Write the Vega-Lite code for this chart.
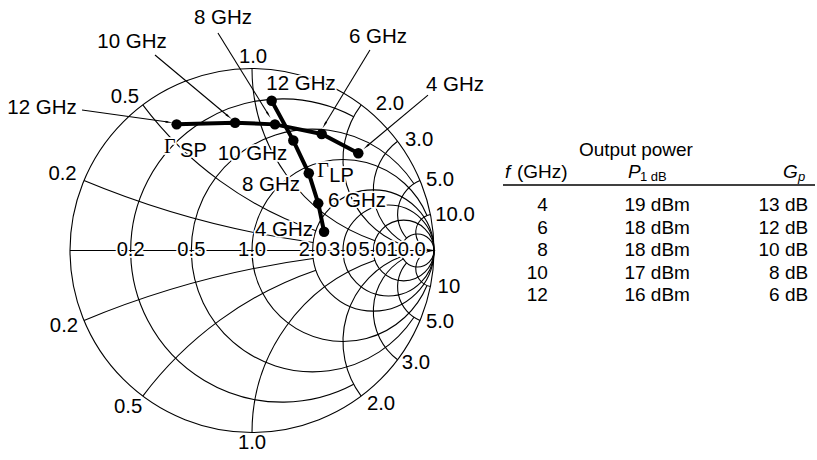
{
  "$schema": "https://vega.github.io/schema/vega-lite/v6.json",
  "width": 817,
  "height": 460,
  "autosize": {"type": "fit", "contains": "padding"},
  "padding": 0,
  "background": "white",
  "config": {"view": {"stroke": null}, "axis": {"disable": true}, "text": {"font": "Liberation Sans"}},
  "datasets": {
    "arcs": [
      {"gx": 0, "gy": 0, "rad": 1, "t1": 0, "t2": 360},
      {"gx": 0.16667, "gy": 0, "rad": 0.83333, "t1": -208.07, "t2": 28.07},
      {"gx": 0.33333, "gy": 0, "rad": 0.66667, "t1": -236.6, "t2": 56.6},
      {"gx": 0.5, "gy": 0, "rad": 0.5, "t1": -247.38, "t2": 67.38},
      {"gx": 0.66667, "gy": 0, "rad": 0.33333, "t1": 0, "t2": 360},
      {"gx": 0.75, "gy": 0, "rad": 0.25, "t1": 0, "t2": 360},
      {"gx": 0.83333, "gy": 0, "rad": 0.16667, "t1": 0, "t2": 360},
      {"gx": 0.90909, "gy": 0, "rad": 0.090909, "t1": 0, "t2": 360},
      {"gx": 1, "gy": 5, "rad": 5, "t1": -157.38, "t2": -172.37},
      {"gx": 1, "gy": -5, "rad": 5, "t1": 337.38, "t2": 352.37},
      {"gx": 1, "gy": 2, "rad": 2, "t1": -126.87, "t2": -161.08},
      {"gx": 1, "gy": -2, "rad": 2, "t1": 306.87, "t2": 341.08},
      {"gx": 1, "gy": 1, "rad": 1, "t1": -90, "t2": -161.08},
      {"gx": 1, "gy": -1, "rad": 1, "t1": 270, "t2": 341.08},
      {"gx": 1, "gy": 0.5, "rad": 0.5, "t1": -53.13, "t2": -159.39},
      {"gx": 1, "gy": -0.5, "rad": 0.5, "t1": 233.13, "t2": 339.39},
      {"gx": 1, "gy": 0.33333, "rad": 0.33333, "t1": -36.87, "t2": -149.49},
      {"gx": 1, "gy": -0.33333, "rad": 0.33333, "t1": 216.87, "t2": 329.49},
      {"gx": 1, "gy": 0.2, "rad": 0.2, "t1": -22.62, "t2": -131.11},
      {"gx": 1, "gy": -0.2, "rad": 0.2, "t1": 202.62, "t2": 311.11},
      {"gx": 1, "gy": 0.1, "rad": 0.1, "t1": -11.42, "t2": -180},
      {"gx": 1, "gy": -0.1, "rad": 0.1, "t1": 191.42, "t2": 360}
    ],
    "segs": [
      {"gx": -1, "gy": 0, "gx2": 0.985, "gy2": 0, "ang": 90},
      {"gx": -0.934, "gy": 0.772, "gx2": -0.462, "gy2": 0.706, "ang": 97.9},
      {"gx": -0.533, "gy": 1.074, "gx2": -0.132, "gy2": 0.739, "ang": 129.9},
      {"gx": -0.187, "gy": 1.195, "gx2": 0.088, "gy2": 0.75, "ang": 148.3},
      {"gx": 0.648, "gy": 1.102, "gx2": 0.401, "gy2": 0.695, "ang": -148.7},
      {"gx": 0.967, "gy": 0.854, "gx2": 0.632, "gy2": 0.574, "ang": -130.1}
    ],
    "labels": [
      {"gx": -1.1538, "gy": 0.783, "txt": "12 GHz", "kind": "big"},
      {"gx": -0.6593, "gy": 1.1456, "txt": "10 GHz", "kind": "big"},
      {"gx": -0.1593, "gy": 1.2775, "txt": "8 GHz", "kind": "big"},
      {"gx": 0.6923, "gy": 1.1731, "txt": "6 GHz", "kind": "big"},
      {"gx": 1.115, "gy": 0.909, "txt": "4 GHz", "kind": "big"},
      {"gx": 0.2692, "gy": 0.9121, "txt": "12 GHz", "kind": "big"},
      {"gx": 0.0027, "gy": 0.5275, "txt": "10 GHz", "kind": "big"},
      {"gx": 0.1044, "gy": 0.3626, "txt": "8 GHz", "kind": "big"},
      {"gx": 0.5769, "gy": 0.2747, "txt": "6 GHz", "kind": "big"},
      {"gx": 0.1758, "gy": 0.1099, "txt": "4 GHz", "kind": "big"},
      {"gx": 0.0055, "gy": 1.063, "txt": "1.0", "kind": "out"},
      {"gx": 0, "gy": -1.058, "txt": "1.0", "kind": "out"},
      {"gx": -0.698, "gy": 0.843, "txt": "0.5", "kind": "out"},
      {"gx": -0.681, "gy": -0.86, "txt": "0.5", "kind": "out"},
      {"gx": -1.041, "gy": 0.42, "txt": "0.2", "kind": "out"},
      {"gx": -1.033, "gy": -0.415, "txt": "0.2", "kind": "out"},
      {"gx": 0.758, "gy": 0.805, "txt": "2.0", "kind": "out"},
      {"gx": 0.709, "gy": -0.843, "txt": "2.0", "kind": "out"},
      {"gx": 0.918, "gy": 0.607, "txt": "3.0", "kind": "out"},
      {"gx": 0.901, "gy": -0.618, "txt": "3.0", "kind": "out"},
      {"gx": 1.033, "gy": 0.387, "txt": "5.0", "kind": "out"},
      {"gx": 1.033, "gy": -0.393, "txt": "5.0", "kind": "out"},
      {"gx": 1.115, "gy": 0.195, "txt": "10.0", "kind": "out"},
      {"gx": 1.082, "gy": -0.201, "txt": "10", "kind": "out"},
      {"gx": -0.6667, "gy": 0, "txt": "0.2", "kind": "ax"},
      {"gx": -0.3333, "gy": 0, "txt": "0.5", "kind": "ax"},
      {"gx": 0, "gy": 0, "txt": "1.0", "kind": "ax"},
      {"gx": 0.3333, "gy": 0, "txt": "2.0", "kind": "ax"},
      {"gx": 0.5, "gy": 0, "txt": "3.0", "kind": "ax"},
      {"gx": 0.662, "gy": 0, "txt": "5.0", "kind": "ax"},
      {"gx": 0.847, "gy": 0, "txt": "10.0", "kind": "ax"},
      {"gx": -0.322, "gy": 0.548, "txt": "SP", "kind": "sub"},
      {"gx": 0.492, "gy": 0.411, "txt": "LP", "kind": "sub"}
    ],
    "gam": [
      {"gx": -0.452, "gy": 0.569, "txt": "Γ"},
      {"gx": 0.39, "gy": 0.437, "txt": "Γ"}
    ],
    "curve": [
      {"set": "SP", "f": 12, "gx": -0.414, "gy": 0.693},
      {"set": "SP", "f": 10, "gx": -0.093, "gy": 0.702},
      {"set": "SP", "f": 8, "gx": 0.126, "gy": 0.693},
      {"set": "SP", "f": 6, "gx": 0.383, "gy": 0.64},
      {"set": "SP", "f": 4, "gx": 0.584, "gy": 0.534},
      {"set": "LP", "f": 12, "gx": 0.108, "gy": 0.823},
      {"set": "LP", "f": 10, "gx": 0.227, "gy": 0.604},
      {"set": "LP", "f": 8, "gx": 0.312, "gy": 0.424},
      {"set": "LP", "f": 6, "gx": 0.364, "gy": 0.259},
      {"set": "LP", "f": 4, "gx": 0.396, "gy": 0.103}
    ],
    "tab": [
      {"fv": 4, "f": "4", "p": "19 dBm", "g": "13 dB"},
      {"fv": 6, "f": "6", "p": "18 dBm", "g": "12 dB"},
      {"fv": 8, "f": "8", "p": "18 dBm", "g": "10 dB"},
      {"fv": 10, "f": "10", "p": "17 dBm", "g": "8 dB"},
      {"fv": 12, "f": "12", "p": "16 dBm", "g": "6 dB"}
    ],
    "thead": [
      {"tx": 0.426, "ty": -0.89, "txt": "Output power", "k": "title"},
      {"tx": 0.0064, "ty": 1.04, "txt": "f", "k": "it"},
      {"tx": 0.0449, "ty": 1.04, "txt": "(GHz)", "k": "norm"},
      {"tx": 0.4006, "ty": 1.04, "txt": "P", "k": "it"},
      {"tx": 0.4391, "ty": 1.5, "txt": "1 dB", "k": "sub"},
      {"tx": 0.8974, "ty": 1.04, "txt": "G", "k": "it"},
      {"tx": 0.9455, "ty": 1.5, "txt": "p", "k": "subit"}
    ]
  },
  "layer": [
    {
      "encoding": {
        "x": {"field": "gx", "type": "quantitative", "scale": {"domain": [-1.38462, 3.1044], "nice": false, "zero": false}, "axis": null},
        "y": {"field": "gy", "type": "quantitative", "scale": {"domain": [-1.1511, 1.37637], "nice": false, "zero": false}, "axis": null}
      },
      "layer": [
        {
          "data": {"name": "arcs"},
          "mark": {"type": "arc", "stroke": "black", "strokeWidth": 1.1, "fillOpacity": 0},
          "encoding": {
            "radius": {"field": "rad", "type": "quantitative", "scale": {"type": "linear", "domain": [0, 1], "range": [0, 182], "zero": true, "nice": false}},
            "radius2": {"field": "rad"},
            "theta": {"field": "t1", "type": "quantitative", "stack": null, "scale": {"domain": [0, 360], "range": [0, 6.283185307179586], "nice": false, "zero": false}},
            "theta2": {"field": "t2"}
          }
        },
        {
          "data": {"name": "segs"},
          "mark": {"type": "rule", "stroke": "black", "strokeWidth": 1.1},
          "encoding": {"x2": {"field": "gx2"}, "y2": {"field": "gy2"}}
        },
        {
          "data": {"name": "segs"},
          "mark": {"type": "point", "shape": "wedge", "filled": true, "color": "black", "size": 70, "opacity": 1},
          "encoding": {
            "x": {"field": "gx2", "type": "quantitative", "scale": {"domain": [-1.38462, 3.1044], "nice": false, "zero": false}, "axis": null},
            "y": {"field": "gy2", "type": "quantitative", "scale": {"domain": [-1.1511, 1.37637], "nice": false, "zero": false}, "axis": null},
            "angle": {"field": "ang", "type": "quantitative", "scale": null}
          }
        },
        {
          "data": {"name": "labels"},
          "mark": {"type": "text", "align": "center", "baseline": "middle", "font": "Liberation Sans", "fill": "white", "stroke": "white", "strokeWidth": 3.5, "strokeJoin": "round"},
          "encoding": {
            "text": {"field": "txt"},
            "size": {"field": "kind", "type": "nominal", "scale": {"domain": ["big", "out", "ax", "sub"], "range": [20.5, 20, 12, 13.5]}, "legend": null}
          }
        },
        {
          "data": {"name": "gam"},
          "mark": {"type": "text", "align": "center", "baseline": "middle", "font": "Liberation Serif", "fontSize": 20, "fill": "white", "stroke": "white", "strokeWidth": 3.5},
          "encoding": {"text": {"field": "txt"}}
        },
        {
          "data": {"name": "labels"},
          "mark": {"type": "text", "align": "center", "baseline": "middle", "font": "Liberation Sans", "fill": "black"},
          "encoding": {
            "text": {"field": "txt"},
            "size": {"field": "kind", "type": "nominal", "scale": {"domain": ["big", "out", "ax", "sub"], "range": [20.5, 20, 12, 13.5]}, "legend": null}
          }
        },
        {
          "data": {"name": "gam"},
          "mark": {"type": "text", "align": "center", "baseline": "middle", "font": "Liberation Serif", "fontSize": 20, "fill": "black"},
          "encoding": {"text": {"field": "txt"}}
        },
        {
          "data": {"name": "curve"},
          "mark": {"type": "line", "color": "black", "strokeWidth": 4},
          "encoding": {"detail": {"field": "set"}, "order": {"field": "f", "type": "quantitative"}}
        },
        {
          "data": {"name": "curve"},
          "mark": {"type": "circle", "color": "black", "size": 110, "opacity": 1},
          "encoding": {}
        }
      ]
    },
    {
      "layer": [
        {
          "data": {"name": "tab"},
          "mark": {"type": "text", "align": "right", "baseline": "middle", "fontSize": 19, "font": "Liberation Sans"},
          "encoding": {
            "x": {"datum": 0.144, "type": "quantitative", "scale": {"domain": [0, 1], "range": [503, 815], "nice": false, "zero": false}, "axis": null},
            "y": {"field": "fv", "type": "quantitative", "scale": {"domain": [4, 12], "range": [205, 295], "nice": false, "zero": false}, "axis": null},
            "text": {"field": "f"}
          }
        },
        {
          "data": {"name": "tab"},
          "mark": {"type": "text", "align": "right", "baseline": "middle", "fontSize": 19, "font": "Liberation Sans"},
          "encoding": {
            "x": {"datum": 0.599, "type": "quantitative"},
            "y": {"field": "fv", "type": "quantitative"},
            "text": {"field": "p"}
          }
        },
        {
          "data": {"name": "tab"},
          "mark": {"type": "text", "align": "right", "baseline": "middle", "fontSize": 19, "font": "Liberation Sans"},
          "encoding": {
            "x": {"datum": 0.978, "type": "quantitative"},
            "y": {"field": "fv", "type": "quantitative"},
            "text": {"field": "g"}
          }
        },
        {
          "data": {"name": "thead"},
          "transform": [{"filter": "datum.k === 'title'"}],
          "mark": {"type": "text", "align": "center", "baseline": "middle", "fontSize": 19, "font": "Liberation Sans"},
          "encoding": {"x": {"field": "tx", "type": "quantitative"}, "y": {"field": "ty", "type": "quantitative"}, "text": {"field": "txt"}}
        },
        {
          "data": {"name": "thead"},
          "transform": [{"filter": "datum.k === 'norm'"}],
          "mark": {"type": "text", "align": "left", "baseline": "middle", "fontSize": 19, "font": "Liberation Sans"},
          "encoding": {"x": {"field": "tx", "type": "quantitative"}, "y": {"field": "ty", "type": "quantitative"}, "text": {"field": "txt"}}
        },
        {
          "data": {"name": "thead"},
          "transform": [{"filter": "datum.k === 'it'"}],
          "mark": {"type": "text", "align": "left", "baseline": "middle", "fontSize": 19, "fontStyle": "italic", "font": "Liberation Sans"},
          "encoding": {"x": {"field": "tx", "type": "quantitative"}, "y": {"field": "ty", "type": "quantitative"}, "text": {"field": "txt"}}
        },
        {
          "data": {"name": "thead"},
          "transform": [{"filter": "datum.k === 'sub'"}],
          "mark": {"type": "text", "align": "left", "baseline": "middle", "fontSize": 13, "font": "Liberation Sans"},
          "encoding": {"x": {"field": "tx", "type": "quantitative"}, "y": {"field": "ty", "type": "quantitative"}, "text": {"field": "txt"}}
        },
        {
          "data": {"name": "thead"},
          "transform": [{"filter": "datum.k === 'subit'"}],
          "mark": {"type": "text", "align": "left", "baseline": "middle", "fontSize": 13, "fontStyle": "italic", "font": "Liberation Sans"},
          "encoding": {"x": {"field": "tx", "type": "quantitative"}, "y": {"field": "ty", "type": "quantitative"}, "text": {"field": "txt"}}
        },
        {
          "data": {"values": [{"a": 0, "b": 1, "yr": 2.22}]},
          "mark": {"type": "rule", "stroke": "black", "strokeWidth": 1.6},
          "encoding": {"x": {"field": "a", "type": "quantitative"}, "x2": {"field": "b"}, "y": {"field": "yr", "type": "quantitative"}}
        }
      ]
    }
  ],
  "resolve": {"scale": {"x": "independent", "y": "independent"}}
}
